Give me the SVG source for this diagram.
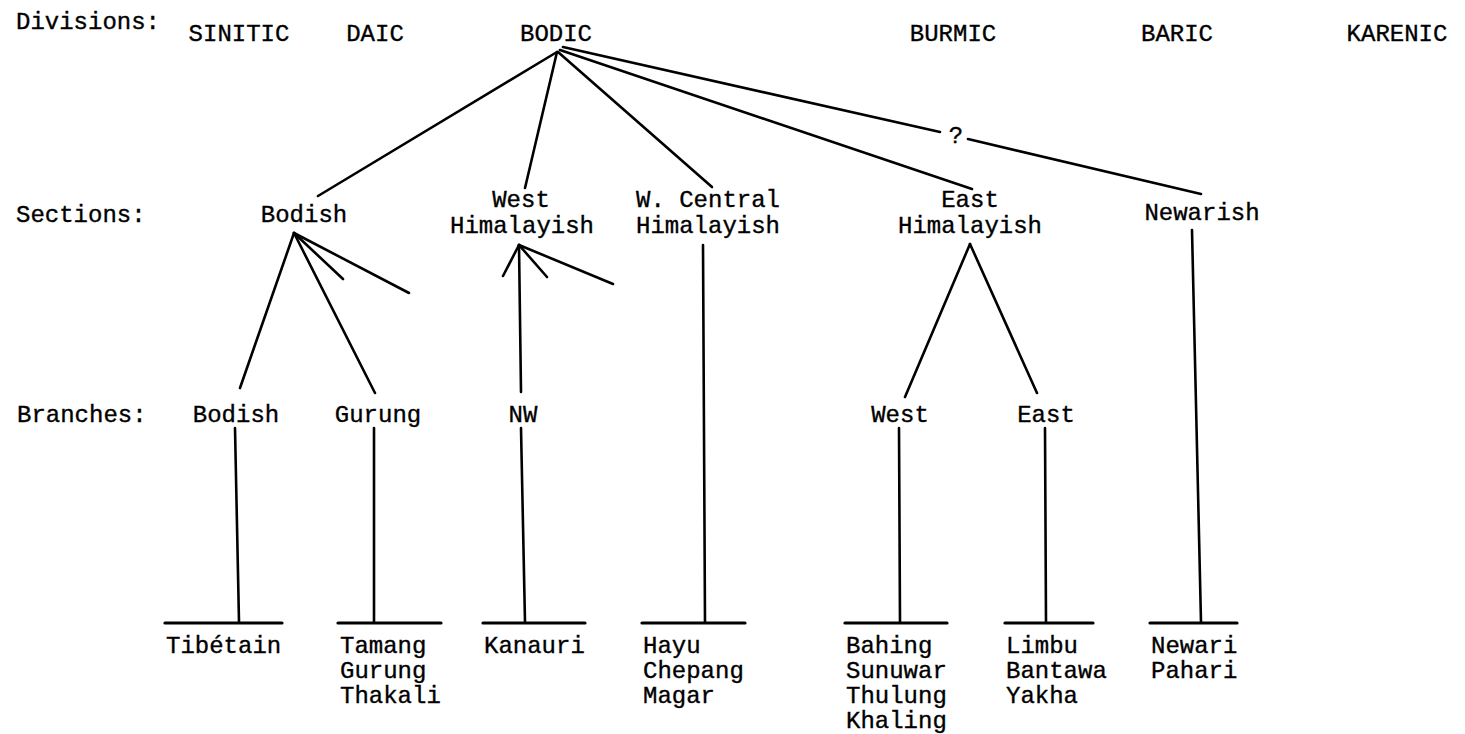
<svg xmlns="http://www.w3.org/2000/svg" width="1465" height="734" viewBox="0 0 1465 734">
<style>
text{font-family:"Liberation Mono","Courier New",monospace;font-size:24px;fill:#000;stroke:#000;stroke-width:0.35}
.m{text-anchor:middle}
.c line{stroke:#000;stroke-width:2.6;stroke-linecap:round}
.c .bar{stroke-width:3.2}
</style>
<rect width="1465" height="734" fill="#fff"/>
<g id="row-labels">
<text x="16" y="29">Divisions:</text>
<text x="16" y="222">Sections:</text>
<text x="17" y="422">Branches:</text>
</g>
<g id="div-sinitic"><text class="m" x="239" y="41">SINITIC</text></g>
<g id="div-daic"><text class="m" x="375" y="41">DAIC</text></g>
<g id="div-bodic"><text class="m" x="556" y="41">BODIC</text></g>
<g id="div-burmic"><text class="m" x="953" y="41">BURMIC</text></g>
<g id="div-baric"><text class="m" x="1177" y="41">BARIC</text></g>
<g id="div-karenic"><text class="m" x="1397" y="41">KARENIC</text></g>
<g id="sec-bodish"><text class="m" x="304" y="222">Bodish</text></g>
<g id="sec-westhim"><text class="m" x="521" y="207">West</text><text class="m" x="522" y="233">Himalayish</text></g>
<g id="sec-wcentral"><text class="m" x="708" y="207">W. Central</text><text class="m" x="708" y="233">Himalayish</text></g>
<g id="sec-easthim"><text class="m" x="970" y="207">East</text><text class="m" x="970" y="233">Himalayish</text></g>
<g id="sec-newarish"><text class="m" x="1202" y="220">Newarish</text></g>
<g id="qmark"><text class="m" x="956" y="143">?</text></g>
<g id="br-bodish"><text class="m" x="236" y="422">Bodish</text></g>
<g id="br-gurung"><text class="m" x="378" y="422">Gurung</text></g>
<g id="br-nw"><text class="m" x="523" y="422">NW</text></g>
<g id="br-west"><text class="m" x="900" y="422">West</text></g>
<g id="br-east"><text class="m" x="1046" y="422">East</text></g>
<g id="leaf-tibetain"><text x="166" y="653">Tibétain</text></g>
<g id="leaf-tamang"><text x="340" y="653">Tamang</text><text x="340" y="678">Gurung</text><text x="340" y="703">Thakali</text></g>
<g id="leaf-kanauri"><text x="484" y="653">Kanauri</text></g>
<g id="leaf-hayu"><text x="643" y="653">Hayu</text><text x="643" y="678">Chepang</text><text x="643" y="703">Magar</text></g>
<g id="leaf-bahing"><text x="846" y="653">Bahing</text><text x="846" y="678">Sunuwar</text><text x="846" y="703">Thulung</text><text x="846" y="728">Khaling</text></g>
<g id="leaf-limbu"><text x="1006" y="653">Limbu</text><text x="1006" y="678">Bantawa</text><text x="1006" y="703">Yakha</text></g>
<g id="leaf-newari"><text x="1151" y="653">Newari</text><text x="1151" y="678">Pahari</text></g>
<g id="connectors" class="c">
<line x1="557" y1="52" x2="318" y2="196"/>
<line x1="557" y1="52" x2="525" y2="188"/>
<line x1="558" y1="52" x2="712" y2="187"/>
<line x1="560" y1="50" x2="972" y2="189"/>
<line x1="563" y1="47" x2="940" y2="132"/>
<line x1="968" y1="139" x2="1201" y2="194"/>
<line x1="294" y1="233" x2="240" y2="388"/>
<line x1="294" y1="233" x2="375" y2="393"/>
<line x1="294" y1="233" x2="343" y2="279"/>
<line x1="294" y1="233" x2="409" y2="293"/>
<line x1="519" y1="245" x2="503" y2="276"/>
<line x1="519" y1="245" x2="521" y2="392"/>
<line x1="519" y1="245" x2="547" y2="277"/>
<line x1="519" y1="245" x2="613" y2="284"/>
<line x1="703" y1="245" x2="705" y2="622"/>
<line x1="970" y1="244" x2="905" y2="397"/>
<line x1="970" y1="244" x2="1037" y2="393"/>
<line x1="1192" y1="230" x2="1201" y2="622"/>
<line x1="235" y1="428" x2="239" y2="622"/>
<line x1="374" y1="428" x2="374" y2="622"/>
<line x1="521" y1="428" x2="525" y2="622"/>
<line x1="899" y1="428" x2="900" y2="622"/>
<line x1="1045" y1="428" x2="1046" y2="622"/>
<line class="bar" x1="165" y1="623" x2="282" y2="623"/>
<line class="bar" x1="338" y1="623" x2="441" y2="623"/>
<line class="bar" x1="483" y1="623" x2="585" y2="623"/>
<line class="bar" x1="642" y1="623" x2="745" y2="623"/>
<line class="bar" x1="845" y1="623" x2="947" y2="623"/>
<line class="bar" x1="1005" y1="623" x2="1093" y2="623"/>
<line class="bar" x1="1150" y1="623" x2="1237" y2="623"/>
</g>
</svg>
